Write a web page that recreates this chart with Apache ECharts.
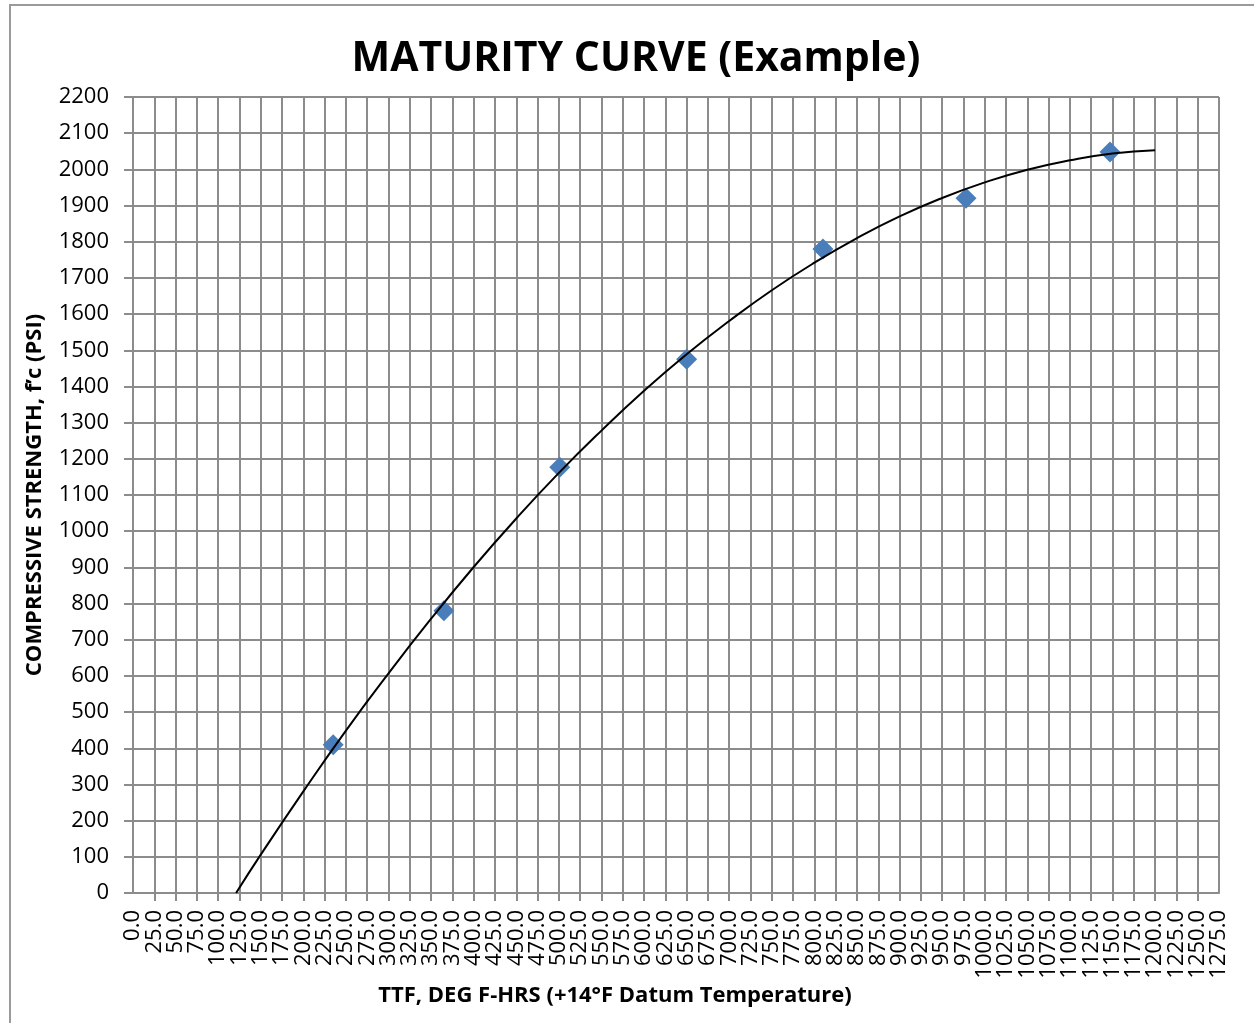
<!DOCTYPE html>
<html>
<head>
<meta charset="utf-8">
<title>Maturity curve</title>
<script src="https://cdn.jsdelivr.net/npm/echarts@6/dist/echarts.min.js"></script>
<style>
  html, body { margin: 0; padding: 0; background: #fff; }
  #chart { width: 1254px; height: 1023px; }
</style>
</head>
<body>
<div id="chart"></div>
<script>
// measured strength points (TTF, psi)
const ttf = [235, 365, 501, 650, 810, 978, 1147];
const strength = [410, 780, 1177, 1475, 1780, 1920, 2048];

// trendline
const trendX = [121, 150, 200, 250, 300, 350, 400, 450, 500, 550, 600, 650, 700, 750, 800, 850, 900, 950, 1000, 1050, 1100, 1150, 1200];
const trendY = [0, 106, 281, 449, 607, 758, 901, 1035, 1161, 1278, 1388, 1489, 1581, 1666, 1742, 1810, 1870, 1921, 1964, 1999, 2025, 2044, 2053];

const xMin = 0, xMax = 1275, xStep = 25;
const yMin = 0, yMax = 2200, yStep = 100;

const titleText = 'MATURITY CURVE (Example)';
const xName = 'TTF, DEG F-HRS (+14°F Datum Temperature)';
const yName = 'COMPRESSIVE STRENGTH, f’c (PSI)';

const gridColor = '#8c8c8c';
const font = '"Open Sans", sans-serif';

const xLabelStyle = {
  interval: 0, rotate: 90, margin: 17, hideOverlap: false,
  color: '#000', fontFamily: font, fontSize: 22
};

const chart = echarts.init(document.getElementById('chart'));
const option = {
  animation: false,
  grid: { left: 133, right: 35, top: 97, bottom: 130, containLabel: false },
  xAxis: [
    {
      // inner labels (25.0 ... 1250.0), grid and ticks
      type: 'value',
      min: xMin, max: xMax, interval: xStep,
      axisLine: { show: true, lineStyle: { color: gridColor, width: 2 } },
      axisTick: { show: true, inside: false, length: 8, lineStyle: { color: gridColor, width: 2 } },
      splitLine: { show: true, lineStyle: { color: gridColor, width: 2 } },
      axisLabel: Object.assign({}, xLabelStyle, {
        showMinLabel: false, showMaxLabel: false,
        formatter: v => v.toFixed(1)
      })
    },
    {
      // end labels only (0.0 and 1275.0)
      type: 'value', position: 'bottom',
      min: xMin, max: xMax, interval: xStep,
      axisLine: { show: false }, axisTick: { show: false }, splitLine: { show: false },
      axisLabel: Object.assign({}, xLabelStyle, {
        showMinLabel: true, showMaxLabel: true,
        formatter: v => (v === xMin || v === xMax) ? v.toFixed(1) : ''
      })
    }
  ],
  yAxis: {
    type: 'value',
    min: yMin, max: yMax, interval: yStep,
    axisLine: { show: true, lineStyle: { color: gridColor, width: 2 } },
    axisTick: { show: true, inside: false, length: 9, lineStyle: { color: gridColor, width: 2 } },
    splitLine: { show: true, lineStyle: { color: gridColor, width: 2 } },
    axisLabel: { margin: 24, color: '#000', fontFamily: font, fontSize: 22, formatter: v => String(v) }
  },
  graphic: [
    { type: 'polyline', silent: true,
      shape: { points: [[10, 1030], [10, 5], [1260, 5]] },
      style: { stroke: '#9a9a9a', lineWidth: 2, fill: null } },
    { type: 'text', x: 636, y: 59,
      style: { text: titleText, font: 'bold 41px ' + font, fill: '#000', textAlign: 'center', textVerticalAlign: 'middle' } },
    { type: 'text', x: 615, y: 996,
      style: { text: xName, font: 'bold 22px ' + font, fill: '#000', textAlign: 'center', textVerticalAlign: 'middle' } },
    { type: 'text', x: 35, y: 495, rotation: Math.PI / 2,
      style: { text: yName, font: 'bold 22px ' + font, fill: '#000', textAlign: 'center', textVerticalAlign: 'middle' } }
  ],
  series: [
    {
      type: 'scatter',
      xAxisIndex: 0,
      data: ttf.map((x, i) => [x, strength[i]]),
      symbol: 'diamond',
      symbolSize: 21,
      itemStyle: { color: '#4a7ebb', opacity: 1 },
      z: 2
    },
    {
      type: 'line',
      xAxisIndex: 0,
      data: trendX.map((x, i) => [x, trendY[i]]),
      smooth: true,
      showSymbol: false,
      lineStyle: { color: '#000', width: 2 },
      z: 3
    }
  ]
};
chart.setOption(option);
</script>
</body>
</html>
